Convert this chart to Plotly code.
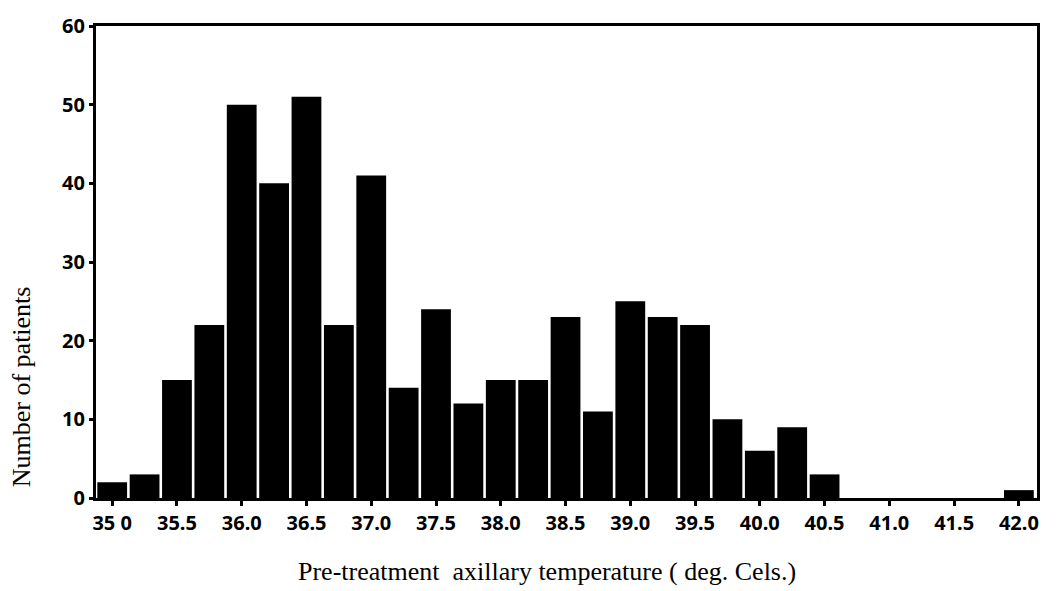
import plotly.graph_objects as go

# Histogram of pre-treatment axillary temperature, 0.25 deg bins
temps = [35.0, 35.25, 35.5, 35.75, 36.0, 36.25, 36.5, 36.75, 37.0, 37.25,
         37.5, 37.75, 38.0, 38.25, 38.5, 38.75, 39.0, 39.25, 39.5, 39.75,
         40.0, 40.25, 40.5, 40.75, 41.0, 41.25, 41.5, 41.75, 42.0]
patients = [2, 3, 15, 22, 50, 40, 51, 22, 41, 14,
            24, 12, 15, 15, 23, 11, 25, 23, 22, 10,
            6, 9, 3, 0, 0, 0, 0, 0, 1]

x_tick_vals = [35.0, 35.5, 36.0, 36.5, 37.0, 37.5, 38.0, 38.5, 39.0, 39.5,
               40.0, 40.5, 41.0, 41.5, 42.0]
x_tick_text = ["35 0", "35.5", "36.0", "36.5", "37.0", "37.5", "38.0", "38.5",
               "39.0", "39.5", "40.0", "40.5", "41.0", "41.5", "42.0"]
y_tick_vals = [0, 10, 20, 30, 40, 50, 60]

fig = go.Figure(
    go.Bar(
        x=temps,
        y=patients,
        width=0.23,
        marker=dict(color="black", line=dict(width=0)),
        hoverinfo="x+y",
    )
)

tick_font = dict(family="Noto Sans", size=20, color="black", weight="bold")
serif = dict(family="Liberation Serif", size=26, color="black")

fig.update_xaxes(
    range=[34.875, 42.14],
    tickmode="array",
    tickvals=x_tick_vals,
    ticktext=x_tick_text,
    tickfont=tick_font,
    ticks="outside",
    ticklen=5,
    tickwidth=3,
    tickcolor="black",
    showline=True,
    linecolor="black",
    linewidth=3,
    mirror=True,
    showgrid=False,
    zeroline=False,
)
fig.update_yaxes(
    range=[0, 60],
    tickmode="array",
    tickvals=y_tick_vals,
    tickfont=tick_font,
    ticks="outside",
    ticklen=4,
    tickwidth=3,
    tickcolor="black",
    showline=True,
    linecolor="black",
    linewidth=3,
    mirror=True,
    showgrid=False,
    zeroline=False,
)

fig.add_annotation(
    text="Pre-treatment  axillary temperature ( deg. Cels.)",
    xref="paper", yref="paper", x=0.479, y=-0.155,
    xanchor="center", yanchor="middle", showarrow=False, font=serif,
)
fig.add_annotation(
    text="Number of patients",
    xref="paper", yref="paper", x=-0.079, y=0.236,
    xanchor="center", yanchor="middle", textangle=-90, showarrow=False, font=serif,
)

fig.update_layout(
    width=1062,
    height=591,
    margin=dict(l=96, r=25, t=19, b=93),
    paper_bgcolor="white",
    plot_bgcolor="white",
    showlegend=False,
    bargap=0.07,
)

fig.write_html("out.html")
